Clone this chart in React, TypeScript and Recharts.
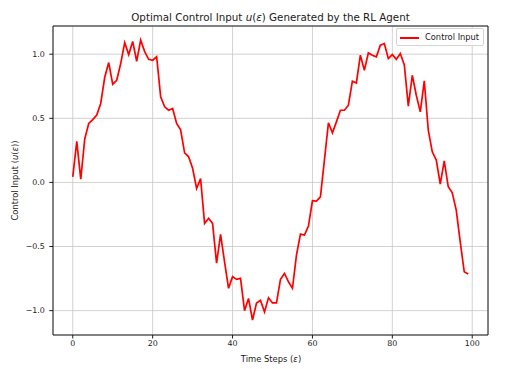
import { LineChart, Line, XAxis, YAxis, CartesianGrid, Label, ReferenceLine } from "recharts";

const controlInput = [
  0.044, 0.32, 0.026, 0.34, 0.46, 0.49, 0.525, 0.616, 0.82, 0.935,
  0.766, 0.797, 0.927, 1.09, 0.997, 1.1, 0.945, 1.11, 1.02, 0.96,
  0.953, 0.98, 0.667, 0.59, 0.563, 0.577, 0.46, 0.41, 0.23, 0.2,
  0.11, -0.047, 0.03, -0.32, -0.28, -0.32, -0.63, -0.405, -0.62, -0.826,
  -0.735, -0.756, -0.748, -1.0, -0.905, -1.073, -0.94, -0.92, -1.01, -0.9,
  -0.94, -0.94, -0.756, -0.71, -0.775, -0.826, -0.567, -0.403, -0.41, -0.34,
  -0.143, -0.146, -0.112, 0.174, 0.465, 0.387, 0.472, 0.563, 0.563, 0.602,
  0.79, 0.776, 0.992, 0.875, 1.01, 0.992, 0.98, 1.07, 1.083, 0.966,
  0.997, 0.96, 1.005, 0.917, 0.595, 0.836, 0.68, 0.55, 0.792, 0.408,
  0.239, 0.174, -0.013, 0.168, -0.034, -0.081, -0.216, -0.463, -0.697, -0.715,
];
const steps = controlInput.map((_, i) => i);
const xTicks = [0, 20, 40, 60, 80, 100];
const yTicks = [-1.0, -0.5, 0.0, 0.5, 1.0];
const xDomain = [-4.95, 103.95];
const yDomain = [-1.19, 1.22];

const data = steps.map((t, i) => ({ t, u: controlInput[i] }));

const FONT = "DejaVu Sans, sans-serif";
const INK = "#1a1a1a";

const fmtY = (v: number) => (v < 0 ? "\u2212" : "") + Math.abs(v).toFixed(1);

export default function App() {
  return (
    <div style={{ position: "absolute", left: 0, top: 0, width: 510, height: 369, background: "#fff", fontFamily: FONT }}>
      <div
        style={{
          position: "absolute", left: 53, top: 10.5, width: 435, textAlign: "center",
          fontSize: 10.3, lineHeight: "13px", color: INK, whiteSpace: "nowrap",
        }}
      >
        Optimal Control Input <i>u</i>(<i>ε</i>) Generated by the RL Agent
      </div>
      <LineChart width={510} height={369} data={data} margin={{ top: 26, right: 22, left: 0, bottom: 0 }}>
        <CartesianGrid stroke="#c6c6c6" strokeWidth={0.8} />
        <XAxis
          dataKey="t"
          type="number"
          domain={xDomain}
          ticks={xTicks}
          allowDataOverflow
          height={34}
          tickSize={3.5}
          tickMargin={2}
          stroke={INK}
          tick={{ fontSize: 7.9, fill: INK, fontFamily: FONT }}
        >
          <Label
            content={() => (
              <text x={271} y={362} textAnchor="middle" fontSize={8.4} fill={INK} fontFamily={FONT}>
                Time Steps (<tspan fontStyle="italic">ε</tspan>)
              </text>
            )}
          />
        </XAxis>
        <YAxis
          type="number"
          domain={yDomain}
          ticks={yTicks}
          allowDataOverflow
          width={53}
          tickSize={3.7}
          tickMargin={4.5}
          stroke={INK}
          tickFormatter={fmtY}
          tick={{ fontSize: 7.9, fill: INK, fontFamily: FONT }}
        >
          <Label
            content={() => (
              <text
                x={18}
                y={180.5}
                transform="rotate(-90 18 180.5)"
                textAnchor="middle"
                fontSize={8.4}
                fill={INK}
                fontFamily={FONT}
              >
                Control Input (<tspan fontStyle="italic">u</tspan>(<tspan fontStyle="italic">ε</tspan>))
              </text>
            )}
          />
        </YAxis>
        <ReferenceLine y={yDomain[1]} stroke={INK} strokeWidth={1} />
        <ReferenceLine x={xDomain[1]} stroke={INK} strokeWidth={1} />
        <Line
          type="linear"
          dataKey="u"
          name="Control Input"
          stroke="#ff0000"
          strokeWidth={1.7}
          dot={false}
          isAnimationActive={false}
        />
      </LineChart>
      <div
        style={{
          position: "absolute", left: 396, top: 28, width: 86, height: 16,
          border: "1px solid #d4d4d4", borderRadius: 2, background: "rgba(255,255,255,0.8)",
          boxSizing: "content-box",
        }}
      >
        <div style={{ position: "absolute", left: 3, top: 7.5, width: 19, height: 2, background: "#ff0000" }} />
        <div style={{ position: "absolute", left: 28, top: 2, fontSize: 8.3, lineHeight: "12px", color: INK, whiteSpace: "nowrap" }}>
          Control Input
        </div>
      </div>
    </div>
  );
}
